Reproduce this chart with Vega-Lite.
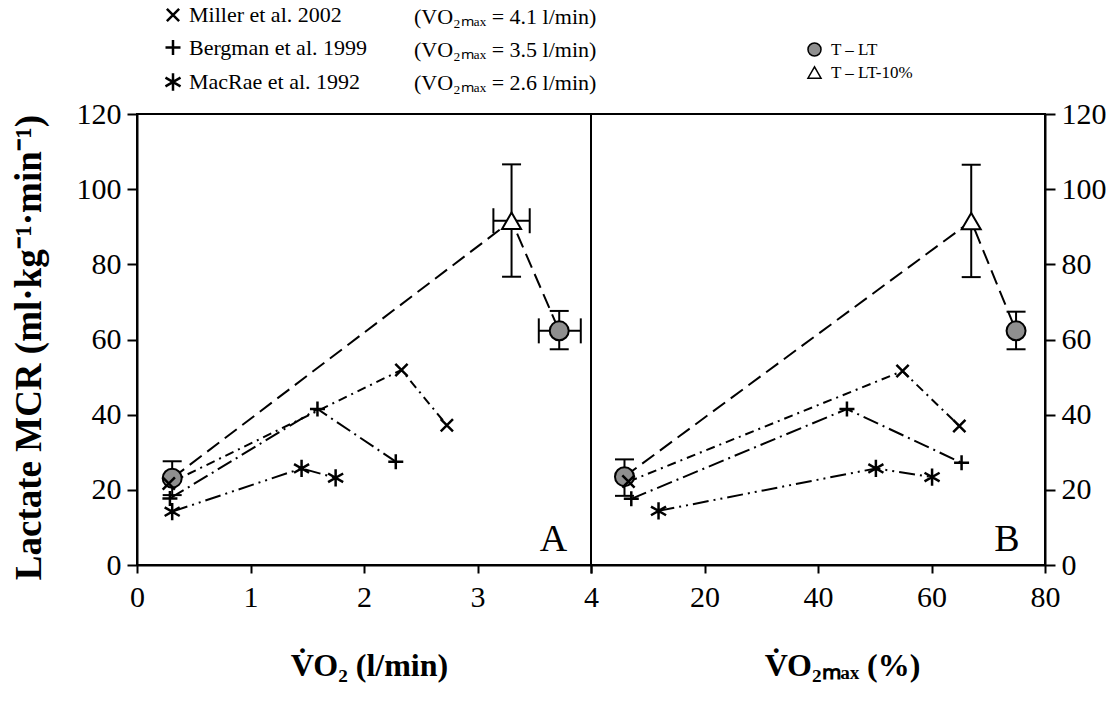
{
  "$schema": "https://vega.github.io/schema/vega-lite/v6.json",
  "background": "white",
  "padding": {"left": 8, "top": 3, "right": 10, "bottom": 10},
  "spacing": 0,
  "bounds": "flush",
  "datasets": {
    "studiesA": [
      {"study": "Miller et al. 2002", "vo2": "(VO₂ₘₐₓ = 4.1 l/min)", "step": 1, "x": 0.28, "y": 21.7},
      {"study": "Miller et al. 2002", "vo2": "(VO₂ₘₐₓ = 4.1 l/min)", "step": 2, "x": 2.33, "y": 51.9},
      {"study": "Miller et al. 2002", "vo2": "(VO₂ₘₐₓ = 4.1 l/min)", "step": 3, "x": 2.73, "y": 37.2},
      {"study": "Bergman et al. 1999", "vo2": "(VO₂ₘₐₓ = 3.5 l/min)", "step": 1, "x": 0.29, "y": 17.7},
      {"study": "Bergman et al. 1999", "vo2": "(VO₂ₘₐₓ = 3.5 l/min)", "step": 2, "x": 1.59, "y": 41.5},
      {"study": "Bergman et al. 1999", "vo2": "(VO₂ₘₐₓ = 3.5 l/min)", "step": 3, "x": 2.28, "y": 27.5},
      {"study": "MacRae et al. 1992", "vo2": "(VO₂ₘₐₓ = 2.6 l/min)", "step": 1, "x": 0.31, "y": 14.2},
      {"study": "MacRae et al. 1992", "vo2": "(VO₂ₘₐₓ = 2.6 l/min)", "step": 2, "x": 1.45, "y": 25.7},
      {"study": "MacRae et al. 1992", "vo2": "(VO₂ₘₐₓ = 2.6 l/min)", "step": 3, "x": 1.75, "y": 23.2}
    ],
    "studiesB": [
      {"study": "Miller et al. 2002", "vo2": "(VO₂ₘₐₓ = 4.1 l/min)", "step": 1, "x": 6.6, "y": 22.2},
      {"study": "Miller et al. 2002", "vo2": "(VO₂ₘₐₓ = 4.1 l/min)", "step": 2, "x": 54.9, "y": 51.6},
      {"study": "Miller et al. 2002", "vo2": "(VO₂ₘₐₓ = 4.1 l/min)", "step": 3, "x": 64.9, "y": 37.0},
      {"study": "Bergman et al. 1999", "vo2": "(VO₂ₘₐₓ = 3.5 l/min)", "step": 1, "x": 7.1, "y": 17.6},
      {"study": "Bergman et al. 1999", "vo2": "(VO₂ₘₐₓ = 3.5 l/min)", "step": 2, "x": 45.1, "y": 41.5},
      {"study": "Bergman et al. 1999", "vo2": "(VO₂ₘₐₓ = 3.5 l/min)", "step": 3, "x": 65.3, "y": 27.2},
      {"study": "MacRae et al. 1992", "vo2": "(VO₂ₘₐₓ = 2.6 l/min)", "step": 1, "x": 11.9, "y": 14.4},
      {"study": "MacRae et al. 1992", "vo2": "(VO₂ₘₐₓ = 2.6 l/min)", "step": 2, "x": 50.2, "y": 25.7},
      {"study": "MacRae et al. 1992", "vo2": "(VO₂ₘₐₓ = 2.6 l/min)", "step": 3, "x": 60.1, "y": 23.4}
    ],
    "tA": [
      {"cond": "T – LT", "step": 1, "x": 0.31, "y": 23.1, "ylo": 18.6, "yhi": 27.6, "xlo": null, "xhi": null},
      {"cond": "T – LT-10%", "step": 2, "x": 3.30, "y": 91.6, "ylo": 76.7, "yhi": 106.6, "xlo": 3.14, "xhi": 3.46},
      {"cond": "T – LT", "step": 3, "x": 3.72, "y": 62.3, "ylo": 57.4, "yhi": 67.6, "xlo": 3.54, "xhi": 3.91}
    ],
    "tB": [
      {"cond": "T – LT", "step": 1, "x": 5.9, "y": 23.5, "ylo": 18.4, "yhi": 28.1},
      {"cond": "T – LT-10%", "step": 2, "x": 67.0, "y": 91.5, "ylo": 76.6, "yhi": 106.5},
      {"cond": "T – LT", "step": 3, "x": 74.9, "y": 62.3, "ylo": 57.4, "yhi": 67.4}
    ]
  },
  "resolve": {
    "scale": {"shape": "independent", "size": "independent", "fill": "independent", "strokeDash": "independent"},
    "legend": {"shape": "independent", "size": "independent", "fill": "independent", "strokeDash": "independent"}
  },
  "hconcat": [
    {
      "width": 454,
      "height": 451,
      "resolve": {
        "scale": {"shape": "independent", "size": "independent", "fill": "independent", "strokeDash": "independent"},
        "legend": {"shape": "independent", "size": "independent", "fill": "independent", "strokeDash": "independent"}
      },
      "layer": [
        {
          "data": {"name": "studiesA"},
          "mark": {"type": "line", "color": "black", "strokeWidth": 2},
          "encoding": {
            "x": {"field": "x", "type": "quantitative", "scale": {"domain": [0, 4]},
                  "axis": {"values": [0, 1, 2, 3, 4], "format": "d", "tickSize": 8, "labelPadding": 9,
                           "title": "V̇O₂ (l/min)", "titleX": 232, "titleY": 100, "titleBaseline": "middle"}},
            "y": {"field": "y", "type": "quantitative", "scale": {"domain": [0, 120]},
                  "axis": {"orient": "left", "values": [0, 20, 40, 60, 80, 100, 120], "tickSize": 10, "labelPadding": 6,
                           "title": "Lactate MCR (ml·kg⁻¹·min⁻¹)", "titleX": -108, "titleY": 233, "titleFontSize": 37,
                           "titleAngle": -90, "titleBaseline": "middle", "titleAlign": "center"}},
            "detail": {"field": "study"},
            "order": {"field": "step", "type": "quantitative"},
            "strokeDash": {
              "field": "vo2", "type": "nominal",
              "scale": {"domain": ["(VO₂ₘₐₓ = 4.1 l/min)", "(VO₂ₘₐₓ = 3.5 l/min)", "(VO₂ₘₐₓ = 2.6 l/min)"],
                        "range": [[9, 5, 2, 5], [16, 5, 2, 5], [16, 5, 2, 5, 2, 5]]},
              "legend": {"orient": "none", "legendX": 255, "legendY": -108, "title": null,
                         "labelFontSize": 22, "rowPadding": 11, "symbolOpacity": 0, "symbolSize": 4,
                         "labelOffset": 0, "symbolStrokeWidth": 0, "labelLimit": 0}
            }
          }
        },
        {
          "data": {"name": "tA"},
          "mark": {"type": "line", "color": "black", "strokeWidth": 2, "strokeDash": [15, 7]},
          "encoding": {
            "x": {"field": "x", "type": "quantitative"},
            "y": {"field": "y", "type": "quantitative"},
            "order": {"field": "step", "type": "quantitative"}
          }
        },
        {
          "data": {"name": "tA"},
          "mark": {"type": "rule", "color": "black", "strokeWidth": 2},
          "encoding": {
            "x": {"field": "x", "type": "quantitative"},
            "y": {"field": "ylo", "type": "quantitative"},
            "y2": {"field": "yhi"}
          }
        },
        {
          "data": {"name": "tA"},
          "mark": {"type": "tick", "orient": "horizontal", "color": "black", "size": 19, "thickness": 2, "opacity": 1},
          "encoding": {
            "x": {"field": "x", "type": "quantitative"},
            "y": {"field": "yhi", "type": "quantitative"}
          }
        },
        {
          "data": {"name": "tA"},
          "mark": {"type": "tick", "orient": "horizontal", "color": "black", "size": 19, "thickness": 2, "opacity": 1},
          "encoding": {
            "x": {"field": "x", "type": "quantitative"},
            "y": {"field": "ylo", "type": "quantitative"}
          }
        },
        {
          "data": {"name": "tA"},
          "transform": [{"filter": "datum.xlo != null"}],
          "mark": {"type": "rule", "color": "black", "strokeWidth": 2},
          "encoding": {
            "x": {"field": "xlo", "type": "quantitative"},
            "x2": {"field": "xhi"},
            "y": {"field": "y", "type": "quantitative"}
          }
        },
        {
          "data": {"name": "tA"},
          "transform": [{"filter": "datum.xlo != null"}],
          "mark": {"type": "tick", "orient": "vertical", "color": "black", "size": 25, "thickness": 2, "opacity": 1},
          "encoding": {
            "x": {"field": "xlo", "type": "quantitative"},
            "y": {"field": "y", "type": "quantitative"}
          }
        },
        {
          "data": {"name": "tA"},
          "transform": [{"filter": "datum.xlo != null"}],
          "mark": {"type": "tick", "orient": "vertical", "color": "black", "size": 25, "thickness": 2, "opacity": 1},
          "encoding": {
            "x": {"field": "xhi", "type": "quantitative"},
            "y": {"field": "y", "type": "quantitative"}
          }
        },
        {
          "data": {"name": "tA"},
          "mark": {"type": "point", "filled": true, "stroke": "black", "strokeWidth": 2, "opacity": 1, "size": 361},
          "encoding": {
            "x": {"field": "x", "type": "quantitative"},
            "y": {"field": "y", "type": "quantitative"},
            "shape": {"field": "cond", "type": "nominal",
                      "scale": {"domain": ["T – LT", "T – LT-10%"], "range": ["circle", "triangle-up"]},
                      "legend": null},
            "fill": {"field": "cond", "type": "nominal",
                     "scale": {"domain": ["T – LT", "T – LT-10%"], "range": ["#8f8f8f", "#ffffff"]},
                     "legend": null}
          }
        },
        {
          "data": {"name": "studiesA"},
          "mark": {"type": "point", "filled": false, "color": "black", "strokeWidth": 2.5, "opacity": 1},
          "encoding": {
            "x": {"field": "x", "type": "quantitative"},
            "y": {"field": "y", "type": "quantitative"},
            "shape": {"field": "study", "type": "nominal",
                      "scale": {"domain": ["Miller et al. 2002", "Bergman et al. 1999", "MacRae et al. 1992"],
                                "range": ["M-1,-1L1,1M-1,1L1,-1", "M0,-1L0,1M-1,0L1,0", "M0,-1L0,1M-0.87,-0.5L0.87,0.5M-0.87,0.5L0.87,-0.5"]},
                      "legend": {"orient": "none", "legendX": 25, "legendY": -110, "title": null,
                                 "labelFontSize": 22, "rowPadding": 7.5, "labelOffset": 5, "labelLimit": 0,
                                 "symbolStrokeColor": "black", "symbolFillColor": "transparent", "symbolStrokeWidth": 2.5}},
            "size": {"field": "study", "type": "nominal",
                     "scale": {"domain": ["Miller et al. 2002", "Bergman et al. 1999", "MacRae et al. 1992"],
                               "range": [150, 300, 230]},
                     "legend": {"orient": "none", "legendX": 25, "legendY": -110, "title": null,
                                "labelFontSize": 22, "rowPadding": 7.5, "labelOffset": 5, "labelLimit": 0,
                                "symbolStrokeColor": "black", "symbolFillColor": "transparent", "symbolStrokeWidth": 2.5}}
          }
        },
        {
          "data": {"values": [{"tag": "A", "x": 3.67, "y": 6.6}]},
          "mark": {"type": "text", "fontSize": 38, "font": "Liberation Serif", "color": "black", "align": "center", "baseline": "middle"},
          "encoding": {
            "x": {"field": "x", "type": "quantitative"},
            "y": {"field": "y", "type": "quantitative"},
            "text": {"field": "tag"}
          }
        }
      ]
    },
    {
      "width": 454,
      "height": 451,
      "resolve": {
        "scale": {"shape": "independent", "size": "independent", "fill": "independent", "strokeDash": "independent"},
        "legend": {"shape": "independent", "size": "independent", "fill": "independent", "strokeDash": "independent"}
      },
      "layer": [
        {
          "data": {"name": "studiesB"},
          "mark": {"type": "line", "color": "black", "strokeWidth": 2},
          "encoding": {
            "x": {"field": "x", "type": "quantitative", "scale": {"domain": [0, 80]},
                  "axis": {"values": [0, 20, 40, 60, 80], "tickSize": 8, "labelPadding": 9,
                           "labelExpr": "datum.value == 0 ? '' : datum.label",
                           "title": "V̇O₂ₘₐₓ (%)", "titleX": 251, "titleY": 100, "titleBaseline": "middle"}},
            "y": {"field": "y", "type": "quantitative", "scale": {"domain": [0, 120]},
                  "axis": {"orient": "right", "values": [0, 20, 40, 60, 80, 100, 120], "tickSize": 10, "labelPadding": 6, "title": null}},
            "detail": {"field": "study"},
            "order": {"field": "step", "type": "quantitative"},
            "strokeDash": {
              "field": "vo2", "type": "nominal",
              "scale": {"domain": ["(VO₂ₘₐₓ = 4.1 l/min)", "(VO₂ₘₐₓ = 3.5 l/min)", "(VO₂ₘₐₓ = 2.6 l/min)"],
                        "range": [[9, 5, 2, 5], [16, 5, 2, 5], [16, 5, 2, 5, 2, 5]]},
              "legend": null
            }
          }
        },
        {
          "data": {"name": "tB"},
          "mark": {"type": "line", "color": "black", "strokeWidth": 2, "strokeDash": [15, 7]},
          "encoding": {
            "x": {"field": "x", "type": "quantitative"},
            "y": {"field": "y", "type": "quantitative"},
            "order": {"field": "step", "type": "quantitative"}
          }
        },
        {
          "data": {"name": "tB"},
          "mark": {"type": "rule", "color": "black", "strokeWidth": 2},
          "encoding": {
            "x": {"field": "x", "type": "quantitative"},
            "y": {"field": "ylo", "type": "quantitative"},
            "y2": {"field": "yhi"}
          }
        },
        {
          "data": {"name": "tB"},
          "mark": {"type": "tick", "orient": "horizontal", "color": "black", "size": 19, "thickness": 2, "opacity": 1},
          "encoding": {
            "x": {"field": "x", "type": "quantitative"},
            "y": {"field": "yhi", "type": "quantitative"}
          }
        },
        {
          "data": {"name": "tB"},
          "mark": {"type": "tick", "orient": "horizontal", "color": "black", "size": 19, "thickness": 2, "opacity": 1},
          "encoding": {
            "x": {"field": "x", "type": "quantitative"},
            "y": {"field": "ylo", "type": "quantitative"}
          }
        },
        {
          "data": {"name": "tB"},
          "mark": {"type": "point", "filled": true, "stroke": "black", "strokeWidth": 2, "opacity": 1, "size": 361},
          "encoding": {
            "x": {"field": "x", "type": "quantitative"},
            "y": {"field": "y", "type": "quantitative"},
            "shape": {"field": "cond", "type": "nominal",
                      "scale": {"domain": ["T – LT", "T – LT-10%"], "range": ["circle", "triangle-up"]},
                      "legend": {"orient": "none", "legendX": 215, "legendY": -73, "title": null,
                                 "labelFontSize": 17, "rowPadding": 3, "symbolSize": 170, "labelOffset": 8, "labelLimit": 0,
                                 "encode": {"symbols": {"update": {"stroke": {"value": "black"}, "strokeWidth": {"value": 2.5}}}}}},
            "fill": {"field": "cond", "type": "nominal",
                     "scale": {"domain": ["T – LT", "T – LT-10%"], "range": ["#8f8f8f", "#ffffff"]},
                     "legend": {"orient": "none", "legendX": 215, "legendY": -73, "title": null,
                                "labelFontSize": 17, "rowPadding": 3, "symbolSize": 170, "labelOffset": 8, "labelLimit": 0,
                                "encode": {"symbols": {"update": {"stroke": {"value": "black"}, "strokeWidth": {"value": 2.5}}}}}}
          }
        },
        {
          "data": {"name": "studiesB"},
          "mark": {"type": "point", "filled": false, "color": "black", "strokeWidth": 2.5, "opacity": 1},
          "encoding": {
            "x": {"field": "x", "type": "quantitative"},
            "y": {"field": "y", "type": "quantitative"},
            "shape": {"field": "study", "type": "nominal",
                      "scale": {"domain": ["Miller et al. 2002", "Bergman et al. 1999", "MacRae et al. 1992"],
                                "range": ["M-1,-1L1,1M-1,1L1,-1", "M0,-1L0,1M-1,0L1,0", "M0,-1L0,1M-0.87,-0.5L0.87,0.5M-0.87,0.5L0.87,-0.5"]},
                      "legend": null},
            "size": {"field": "study", "type": "nominal",
                     "scale": {"domain": ["Miller et al. 2002", "Bergman et al. 1999", "MacRae et al. 1992"],
                               "range": [150, 300, 230]},
                     "legend": null}
          }
        },
        {
          "data": {"values": [{"tag": "B", "x": 73.3, "y": 6.6}]},
          "mark": {"type": "text", "fontSize": 38, "font": "Liberation Serif", "color": "black", "align": "center", "baseline": "middle"},
          "encoding": {
            "x": {"field": "x", "type": "quantitative"},
            "y": {"field": "y", "type": "quantitative"},
            "text": {"field": "tag"}
          }
        }
      ]
    }
  ],
  "config": {
    "font": "Liberation Serif",
    "view": {"stroke": "black", "strokeWidth": 2},
    "axis": {
      "grid": false, "domainColor": "black", "domainWidth": 2, "tickColor": "black", "tickWidth": 2,
      "labelColor": "black", "labelFont": "Liberation Serif", "labelFontSize": 30,
      "titleColor": "black", "titleFont": "Liberation Serif", "titleFontWeight": "bold", "titleFontSize": 32,
      "labelFlush": false, "labelOverlap": false, "labelBound": false
    },
    "legend": {"labelFont": "Liberation Serif", "labelColor": "black", "padding": 0}
  }
}
